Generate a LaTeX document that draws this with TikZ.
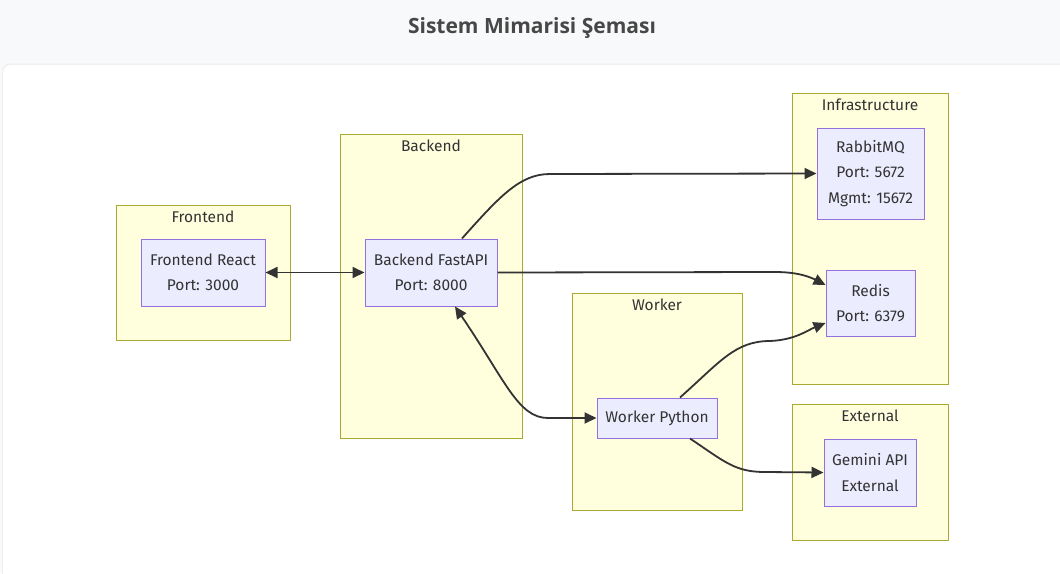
\documentclass[tikz,border=0pt]{standalone}
\usepackage{fontspec}
\setmainfont{Fira Sans}
\newfontfamily\titlefont{Open Sans}
\usetikzlibrary{arrows.meta,positioning}

\definecolor{pagebg}{HTML}{F8F9FA}
\definecolor{clusterfill}{HTML}{FFFFDE}
\definecolor{clusterline}{HTML}{AAAA33}
\definecolor{svcfill}{HTML}{ECECFF}
\definecolor{svcline}{HTML}{9370DB}
\definecolor{ink}{HTML}{333333}

\begin{document}
\begin{tikzpicture}[x=1pt,y=-1pt,
    cluster/.style={draw=clusterline,fill=clusterfill,line width=1pt,inner sep=0pt},
    clustertitle/.style={text=ink,font=\fontsize{15.5}{17}\selectfont,anchor=north,inner sep=0pt},
    svc/.style={draw=svcline,fill=svcfill,line width=1pt,align=center,text=ink,
      font=\fontsize{15.5}{25.5}\selectfont,inner sep=0pt},
    flow/.style={draw=ink,line width=1.8pt,-{Triangle[length=12pt,width=11pt]}},
    flowboth/.style={draw=ink,line width=1.8pt,{Triangle[length=12pt,width=11pt]}-{Triangle[length=12pt,width=11pt]}}]
        \useasboundingbox (0,0) rectangle (1060,573);
        % page and card
        \fill[pagebg] (0,0) rectangle (1060,573);
        \fill[black!6,rounded corners=8pt] (2,63.5) rectangle (1080,600);
        \fill[white,rounded corners=8pt] (3,65) rectangle (1080,600);
        \node[font=\titlefont\bfseries\fontsize{21}{23}\selectfont,text=ink!90] (title) at (532,28) {Sistem Mimarisi Şeması};

        % groups
        \node[cluster,minimum width=174pt,minimum height=135pt] (frontendbox) at (203,272.5) {};
        \node[cluster,minimum width=182pt,minimum height=304pt] (backendbox) at (431,286) {};
        \node[cluster,minimum width=170pt,minimum height=217pt] (workerbox) at (657,401.5) {};
        \node[cluster,minimum width=156pt,minimum height=291pt] (infrabox) at (870,238.5) {};
        \node[cluster,minimum width=156pt,minimum height=136pt] (externalbox) at (870,472) {};

        \node[clustertitle] at ([yshift=-6pt]frontendbox.north) {Frontend};
        \node[clustertitle] at ([yshift=-6pt]backendbox.north) {Backend};
        \node[clustertitle] at ([yshift=-6pt]workerbox.north) {Worker};
        \node[clustertitle] at ([yshift=-6pt]infrabox.north) {Infrastructure};
        \node[clustertitle] at ([yshift=-6pt]externalbox.north) {External};

        % services
        \node[svc,minimum width=124pt,minimum height=67pt] (react) at (203,272.5) {Frontend React\\Port: 3000};
        \node[svc,minimum width=132pt,minimum height=67pt] (fastapi) at (431,272.5) {Backend FastAPI\\Port: 8000};
        \node[svc,minimum width=107pt,minimum height=91pt] (rabbit) at (870.5,173.5) {RabbitMQ\\Port: 5672\\Mgmt: 15672};
        \node[svc,minimum width=89pt,minimum height=66pt] (redis) at (870.5,303) {Redis\\Port: 6379};
        \node[svc,minimum width=120pt,minimum height=40pt] (worker) at (657,418) {Worker Python};
        \node[svc,minimum width=92pt,minimum height=67pt] (gemini) at (870,472.5) {Gemini API\\External};

        % links
        \draw[flowboth] (react) -- (fastapi);
        \draw[flow] ([xshift=31pt]fastapi.north) .. controls (500,196) and (520,174) .. (550,174) -- (rabbit.west);
        \draw[flow] (fastapi.east) -- (775,272) .. controls (798,272) and (810,277) .. ([yshift=18pt]redis.west);
        \draw[flowboth] ([xshift=24pt]fastapi.south) .. controls (505,380) and (518,418) .. (548,418) -- (worker.west);
        \draw[flow] ([xshift=23pt]worker.north) .. controls (720,362) and (735,341) .. (770,341) .. controls (795,340) and (808,330) .. ([yshift=-20pt]redis.west);
        \draw[flow] ([xshift=33pt]worker.south) .. controls (725,462) and (735,472) .. (765,472) -- (gemini.west);
      \end{tikzpicture}
\end{document}
